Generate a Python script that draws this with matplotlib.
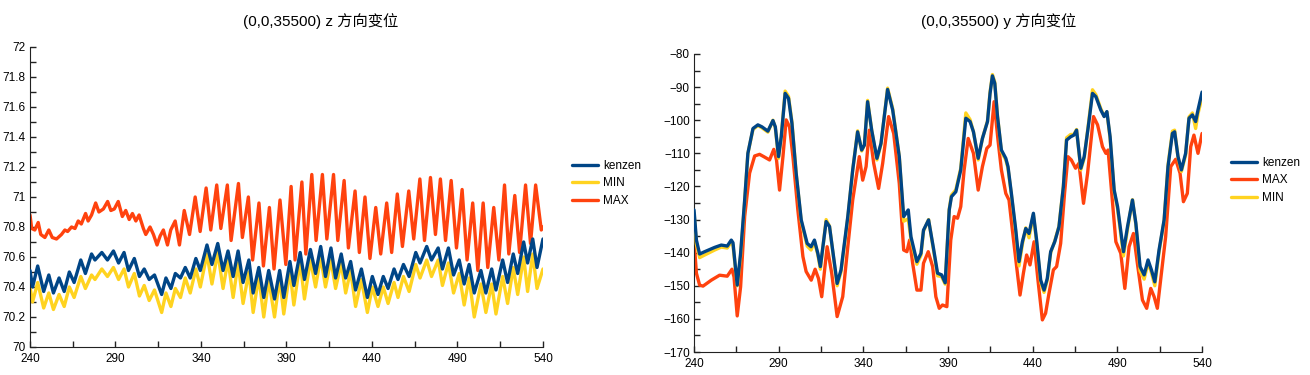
import matplotlib.pyplot as plt
from matplotlib.ticker import MultipleLocator, FuncFormatter

# 字体: 西文用 Liberation Sans, 中文用 Noto Sans CJK SC
plt.rcParams['font.family'] = ['Liberation Sans', 'Noto Sans CJK SC', 'DejaVu Sans']

C_KENZEN = '#004586'
C_MIN = '#ffd320'
C_MAX = '#ff420e'

# ---- z 方向变位 (左图) ----
xz = [240, 241.5, 244.5, 248, 251, 253.7, 257, 260, 263, 265.8,
      269.7, 272.4, 276, 278, 282, 285.3, 288.8, 291.8, 295, 297.6,
      301, 304, 306.8, 309.7, 312.8, 317, 319.5, 322.4, 325, 328,
      330.8, 333.7, 337, 339.6, 343.5, 346.4, 349.8, 352.9, 355.8, 358.8,
      361.7, 364.6, 368, 370.5, 373.8, 376.7, 379.6, 383, 386, 388.4,
      392, 394.3, 398, 400.5, 404, 407, 410, 412.8, 416, 418.7,
      422, 424.6, 427.5, 430.4, 433.8, 437.3, 440.2, 443.5, 446.6, 449.4,
      452.9, 455.2, 458.4, 461.7, 465.6, 468.1, 472, 474.8, 478.7, 481.2,
      484.7, 487.7, 491, 493.9, 496.8, 499.8, 503.7, 506.6, 510, 512.5,
      516.4, 519.3, 522.6, 525.2, 528.7, 531, 534, 536.5, 540]

z_kenzen = [70.51, 70.40, 70.54, 70.37, 70.48, 70.36, 70.46, 70.37, 70.50, 70.43,
            70.58, 70.49, 70.62, 70.58, 70.63, 70.58, 70.64, 70.56, 70.63, 70.51,
            70.59, 70.47, 70.52, 70.45, 70.48, 70.35, 70.46, 70.39, 70.49, 70.46,
            70.53, 70.46, 70.59, 70.51, 70.68, 70.55, 70.69, 70.51, 70.64, 70.47,
            70.64, 70.43, 70.58, 70.36, 70.53, 70.33, 70.51, 70.32, 70.51, 70.33,
            70.57, 70.41, 70.63, 70.45, 70.65, 70.49, 70.67, 70.47, 70.66, 70.46,
            70.62, 70.46, 70.57, 70.38, 70.52, 70.33, 70.47, 70.35, 70.47, 70.39,
            70.52, 70.45, 70.55, 70.47, 70.63, 70.56, 70.67, 70.58, 70.66, 70.52,
            70.66, 70.48, 70.58, 70.42, 70.55, 70.36, 70.51, 70.36, 70.52, 70.38,
            70.58, 70.43, 70.62, 70.49, 70.70, 70.56, 70.72, 70.53, 70.72]

z_min = [70.40, 70.30, 70.43, 70.26, 70.36, 70.25, 70.35, 70.27, 70.40, 70.33,
         70.47, 70.39, 70.48, 70.45, 70.52, 70.47, 70.53, 70.45, 70.52, 70.40,
         70.49, 70.34, 70.41, 70.31, 70.38, 70.23, 70.36, 70.27, 70.39, 70.33,
         70.46, 70.36, 70.52, 70.40, 70.62, 70.42, 70.63, 70.39, 70.58, 70.33,
         70.56, 70.29, 70.50, 70.23, 70.47, 70.20, 70.45, 70.20, 70.46, 70.22,
         70.51, 70.28, 70.57, 70.32, 70.58, 70.40, 70.60, 70.40, 70.58, 70.39,
         70.56, 70.36, 70.51, 70.27, 70.45, 70.23, 70.40, 70.27, 70.40, 70.29,
         70.43, 70.33, 70.47, 70.37, 70.55, 70.46, 70.58, 70.47, 70.58, 70.41,
         70.56, 70.36, 70.49, 70.28, 70.46, 70.20, 70.42, 70.23, 70.42, 70.22,
         70.47, 70.29, 70.53, 70.35, 70.60, 70.37, 70.62, 70.39, 70.52]

xz_max = [240, 241, 242.8, 244.8, 246.3, 248.7, 251, 253, 255.5, 258.4,
          260.4, 262, 264.3, 266.3, 268.2, 270, 272.5, 274, 276, 278.4,
          280.3, 282.9, 285.4, 287.3, 289.3, 291.6, 294, 296, 298, 299.9,
          301.9, 303.8, 306.3, 307.7, 310.2, 312.2, 314.3, 316.1, 318, 320.4,
          322.3, 324.9, 327.4, 330.2, 333.3, 336.6, 339.5, 343, 345.7, 349.2,
          351.6, 355.4, 357.6, 361.9, 364.2, 367.7, 370.2, 373.9, 376.5, 380,
          382.7, 386.2, 389.6, 392.7, 395, 399, 401.3, 404.8, 407.3, 411,
          413.6, 417.5, 420, 423.7, 426.2, 430.1, 432.6, 435.9, 438.8, 442.2,
          445.1, 448.6, 451.5, 454.8, 457.8, 461.5, 464.4, 468, 470.7, 474.2,
          477.1, 480, 483, 486.3, 489.4, 492.7, 495.6, 498.9, 501.9, 505,
          507.7, 511.2, 514.2, 517.5, 520, 523.5, 526.3, 529.8, 532.7, 535.7,
          539, 540]

z_max = [70.88, 70.79, 70.78, 70.83, 70.75, 70.73, 70.78, 70.73, 70.72, 70.75,
         70.78, 70.77, 70.80, 70.79, 70.84, 70.82, 70.89, 70.84, 70.88, 70.96,
         70.90, 70.92, 70.97, 70.91, 70.92, 70.97, 70.87, 70.91, 70.85, 70.89,
         70.84, 70.88, 70.79, 70.75, 70.80, 70.75, 70.68, 70.74, 70.78, 70.68,
         70.78, 70.84, 70.68, 70.91, 70.75, 71.00, 70.77, 71.06, 70.78, 71.08,
         70.79, 71.08, 70.71, 71.09, 70.73, 71.00, 70.58, 70.96, 70.54, 70.93,
         70.52, 70.98, 70.55, 71.07, 70.58, 71.10, 70.62, 71.15, 70.71, 71.15,
         70.72, 71.15, 70.71, 71.11, 70.66, 71.04, 70.63, 71.00, 70.59, 70.93,
         70.62, 70.96, 70.63, 71.02, 70.67, 71.04, 70.72, 71.12, 70.71, 71.13,
         70.75, 71.12, 70.71, 71.11, 70.66, 71.05, 70.58, 70.96, 70.51, 70.96,
         70.53, 70.93, 70.58, 71.08, 70.62, 71.01, 70.63, 71.08, 70.69, 71.08,
         70.78, 70.80]

# ---- y 方向变位 (右图) ----
xy = [240, 241.4, 243.3, 246.3, 252.2, 256.1, 259.6, 262, 263, 265.5,
      267.5, 269.9, 271.8, 274.8, 277.7, 280.1, 283.6, 286.6, 288, 289.9,
      291.5, 293.8, 295.8, 297.8, 300.3, 303.3, 306.8, 309.1, 311.1, 313.1,
      314.6, 318, 320, 324.5, 326.8, 330.8, 333.7, 336.6, 339, 340.6,
      342.5, 344.9, 348, 350.4, 354.3, 357.3, 361.2, 363.8, 366.5, 368.1,
      371.6, 374, 375.5, 378.5, 381.4, 383.8, 386.2, 388.3, 390.7, 392,
      394.6, 397.5, 400.5, 403, 405, 407.8, 410.3, 413.3, 414.8, 416.2,
      417.6, 419.2, 421.5, 424.1, 425.4, 427.4, 430, 431.9, 433.9, 435.9,
      437.8, 440.4, 442.3, 444.7, 446.7, 448.6, 450.6, 453, 455.5, 458.1,
      460, 462.4, 464.3, 465.9, 468.4, 470.4, 472.8, 475.3, 477.3, 480.2,
      482.2, 483.8, 485.7, 488.1, 490.1, 493.6, 496, 498.9, 500.9, 503.4,
      505.8, 508.1, 510.1, 512.1, 514.6, 517.6, 519.9, 522.5, 523.8, 525.8,
      527.8, 530.3, 532.3, 534.3, 536.2, 537.6, 540]

y_kenzen = [-127.1, -136.2, -140.4, -139.7, -138.4, -137.7, -138.0, -136.2, -137.0, -149.8,
            -140.2, -124.1, -110.0, -102.5, -101.4, -102.0, -103.3, -100.1, -102.0, -111.0,
            -105.0, -91.9, -93.4, -100.9, -116.0, -130.1, -137.2, -138.2, -136.2, -140.2,
            -144.2, -130.6, -132.1, -149.3, -145.2, -129.1, -115.0, -103.5, -109.0, -107.5,
            -94.4, -103.0, -111.5, -107.0, -90.7, -96.9, -111.0, -129.1, -127.1, -135.2,
            -142.7, -140.2, -133.2, -130.1, -138.7, -146.2, -146.7, -149.1, -127.1, -123.1,
            -121.6, -115.0, -99.4, -100.4, -103.5, -111.5, -105.5, -100.4, -91.9, -86.6,
            -88.9, -98.9, -109.0, -111.5, -114.0, -122.1, -133.2, -142.7, -136.7, -132.7,
            -134.2, -128.1, -136.2, -148.3, -151.3, -147.8, -139.7, -136.7, -132.2, -120.1,
            -106.0, -105.0, -104.5, -103.0, -114.5, -111.0, -102.0, -91.9, -92.9, -96.9,
            -98.9, -97.4, -105.0, -121.1, -126.1, -139.7, -132.1, -124.1, -131.1, -144.2,
            -146.7, -142.2, -145.2, -148.8, -139.2, -130.1, -114.0, -104.0, -103.5, -111.0,
            -115.0, -110.0, -99.4, -98.4, -100.4, -96.9, -91.5]

y_min = [-128.0, -137.5, -141.5, -140.7, -139.2, -138.3, -138.6, -136.8, -137.8, -150.0,
         -141.0, -124.5, -110.0, -102.8, -101.6, -102.3, -103.6, -100.0, -102.3, -111.5,
         -105.0, -91.2, -92.8, -100.5, -116.0, -130.5, -138.0, -139.2, -136.6, -140.6,
         -145.0, -130.0, -132.0, -150.0, -145.8, -129.5, -115.0, -103.2, -109.3, -107.5,
         -94.0, -103.0, -112.0, -107.3, -90.3, -96.5, -111.0, -130.5, -129.8, -136.0,
         -143.5, -140.8, -133.5, -130.0, -139.2, -147.0, -147.2, -149.5, -126.8, -122.6,
         -121.0, -114.5, -97.8, -99.8, -103.5, -112.0, -105.5, -100.2, -91.5, -86.2,
         -88.5, -98.6, -109.5, -112.0, -114.5, -122.5, -134.0, -144.0, -137.5, -132.5,
         -135.5, -128.5, -137.0, -149.0, -152.0, -148.3, -140.0, -136.5, -132.0, -119.8,
         -105.3, -104.3, -104.3, -102.8, -115.0, -111.5, -101.5, -90.8, -92.3, -96.5,
         -98.8, -97.5, -105.5, -121.5, -126.8, -141.0, -132.8, -124.0, -131.5, -145.5,
         -148.0, -143.0, -146.0, -150.0, -139.8, -130.3, -113.5, -103.3, -103.0, -111.2,
         -115.5, -110.5, -99.0, -97.8, -102.5, -98.0, -93.0]

xy_max = [240, 241.4, 243.3, 245.3, 250.2, 255.1, 259.6, 262.4, 263.6, 265.5,
          267.5, 269.9, 272.8, 275.8, 278.7, 281.2, 284.6, 287.1, 288.7, 290.5,
          292.5, 294.4, 296.4, 298.4, 301.3, 304.3, 306.2, 309.2, 311.5, 313.5,
          315.4, 318.6, 321.3, 324.5, 327.8, 330.8, 333.7, 337.6, 339.6, 341.6,
          343.5, 346.1, 349, 351.4, 354.9, 357.9, 361.2, 363.8, 365.7, 367.3,
          369.1, 371.6, 374, 375.5, 378.3, 380.9, 382.8, 384.8, 386.7, 389.3,
          391.6, 393.6, 395.6, 397.5, 399.5, 401.9, 405, 407.8, 410.3, 412.9,
          414.8, 417.2, 419.5, 421.5, 424.1, 426, 428, 430.5, 432.5, 434.5,
          436.4, 438.4, 440.8, 443.1, 445.7, 447.6, 449.6, 452.2, 454.1, 456.5,
          458.8, 460.8, 462.8, 465.3, 467.3, 470, 472.4, 475.9, 478.3, 481.2,
          483.2, 484.5, 486.5, 489.1, 492, 494.4, 496.9, 499.5, 501.8, 504.8,
          507.3, 509.7, 511.7, 513.6, 516, 518.5, 521.5, 524.4, 527, 529,
          531.3, 533.3, 535.2, 537.6, 540]

y_max = [-136.2, -146.2, -149.8, -150.1, -148.3, -146.8, -147.1, -145.0, -147.3, -159.1,
         -150.3, -129.1, -116.0, -110.8, -110.3, -111.0, -112.0, -108.8, -112.0, -121.1,
         -111.0, -99.9, -102.0, -111.0, -127.1, -141.2, -145.7, -148.3, -145.0, -147.8,
         -153.3, -138.2, -146.2, -159.3, -153.3, -138.2, -124.1, -111.0, -118.1, -114.0,
         -103.0, -113.0, -120.6, -113.0, -98.9, -104.0, -119.1, -139.2, -139.7, -136.2,
         -143.2, -151.3, -151.3, -143.2, -139.7, -144.2, -153.3, -156.8, -155.8, -156.3,
         -136.2, -129.1, -129.6, -126.1, -115.0, -105.5, -110.0, -121.1, -114.0, -108.5,
         -107.5, -94.4, -106.0, -115.0, -122.1, -124.1, -133.2, -144.2, -152.8, -146.2,
         -140.7, -143.7, -136.7, -148.3, -160.3, -158.3, -152.3, -145.2, -144.2, -137.2,
         -122.1, -111.0, -112.0, -114.5, -113.0, -125.1, -116.0, -98.9, -101.4, -108.0,
         -110.0, -109.0, -121.1, -136.7, -140.2, -150.8, -138.2, -134.2, -143.2, -154.3,
         -156.8, -150.8, -153.3, -156.8, -146.2, -135.2, -114.0, -111.8, -116.0, -124.6,
         -122.1, -108.0, -104.5, -110.0, -104.0]

fig = plt.figure(figsize=(13.1, 3.75), dpi=100)
ax1 = fig.add_axes([0.0229, 0.0747, 0.3916, 0.8])
ax2 = fig.add_axes([0.5298, 0.0613, 0.3878, 0.7947])

lw = 2.4
kw = dict(lw=lw, solid_joinstyle='round', solid_capstyle='round')
ax1.plot(xz, z_kenzen, color=C_KENZEN, label='kenzen', zorder=3, **kw)
ax1.plot(xz, z_min, color=C_MIN, label='MIN', zorder=2, **kw)
ax1.plot(xz_max, z_max, color=C_MAX, label='MAX', zorder=2, **kw)

ax2.plot(xy, y_kenzen, color=C_KENZEN, label='kenzen', zorder=4, **kw)
ax2.plot(xy_max, y_max, color=C_MAX, label='MAX', zorder=2, **kw)
ax2.plot(xy, y_min, color=C_MIN, label='MIN', zorder=3, **kw)

ax1.set_ylim(70, 72)
ax1.yaxis.set_major_locator(MultipleLocator(0.2))
ax1.yaxis.set_minor_locator(MultipleLocator(0.1))
ax1.yaxis.set_major_formatter(FuncFormatter(lambda v, p: '{:g}'.format(round(v, 1))))

ax2.set_ylim(-170, -80)
ax2.yaxis.set_major_locator(MultipleLocator(10))
ax2.yaxis.set_minor_locator(MultipleLocator(5))

for ax in (ax1, ax2):
    ax.set_xlim(240, 540)
    # 刻度从 240 开始, 每 50 一个
    ax.xaxis.set_major_locator(MultipleLocator(50, offset=40))
    ax.xaxis.set_minor_locator(MultipleLocator(25, offset=15))
    ax.spines['top'].set_visible(False)
    ax.spines['right'].set_visible(False)
    ax.spines['left'].set_color('#222222')
    ax.spines['bottom'].set_color('#222222')
    ax.tick_params(which='both', direction='in', length=4, width=1, color='#222222',
                   labelsize=8.5)
    ax.tick_params(axis='y', pad=3)
    ax.tick_params(axis='x', pad=4.5)

fig.text(0.245, 0.944, '(0,0,35500) z 方向变位', ha='center', va='center', fontsize=11)
fig.text(0.762, 0.944, '(0,0,35500) y 方向变位', ha='center', va='center', fontsize=11)

leg_kw = dict(frameon=False, fontsize=8.5, handlelength=2.2, handletextpad=0.45,
              labelspacing=0.45, borderpad=0, borderaxespad=0, loc='upper left')
ax1.legend(bbox_to_anchor=(0.4366, 0.573), bbox_transform=fig.transFigure, **leg_kw)
ax2.legend(bbox_to_anchor=(0.9397, 0.581), bbox_transform=fig.transFigure, **leg_kw)

fig.savefig('out.png', dpi=100)
